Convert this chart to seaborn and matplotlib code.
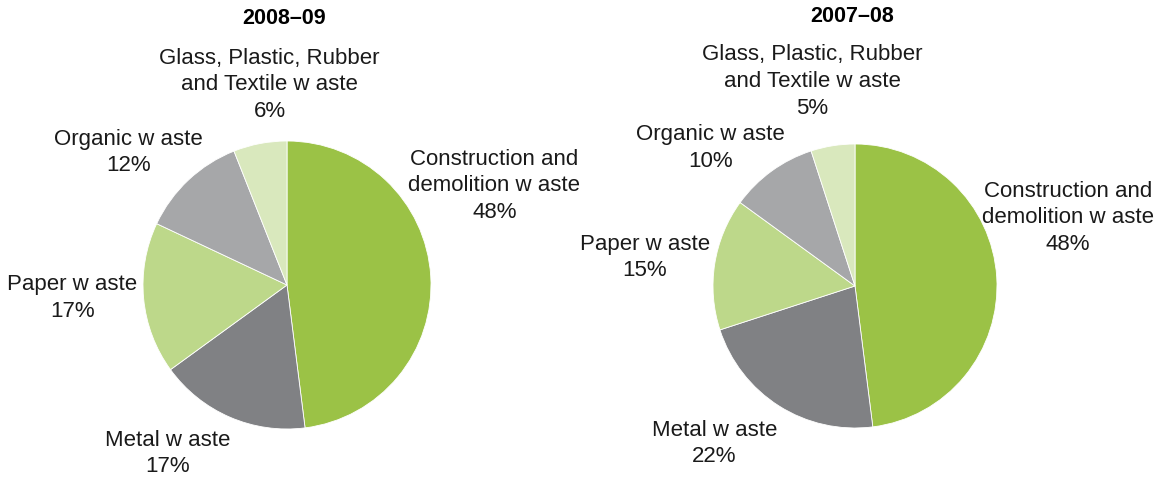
import matplotlib
matplotlib.use("Agg")
import matplotlib.pyplot as plt
import seaborn as sns

sns.set_theme(style="white")
plt.rcParams["font.family"] = ["Liberation Sans", "DejaVu Sans"]

# Waste stream categories, in drawing order (clockwise from 12 o'clock)
categories = [
    "Construction and\ndemolition w aste",
    "Metal w aste",
    "Paper w aste",
    "Organic w aste",
    "Glass, Plastic, Rubber\nand Textile w aste",
]
share_2008_09 = [48, 17, 17, 12, 6]
share_2007_08 = [48, 22, 15, 10, 5]
years = ["2008\u201309", "2007\u201308"]

colors = sns.color_palette(["#9BC246", "#808184", "#BDD88A", "#A6A7A9", "#D9E8BD"])

# Label anchor positions, in units of pie radius
label_pos_left = [(1.44, 0.69), (-0.83, -1.17), (-1.49, -0.09), (-1.10, 0.92), (-0.12, 1.39)]
label_pos_right = [(1.50, 0.48), (-0.99, -1.11), (-1.48, 0.20), (-1.02, 0.97), (-0.30, 1.44)]

W, H = 1158, 479
fig = plt.figure(figsize=(W / 100, H / 100), dpi=100)
fig.patch.set_facecolor("white")


def draw_pie(rect, values, title, label_pos, title_y):
    ax = fig.add_axes(rect)
    ax.pie(
        values,
        colors=colors,
        startangle=90,
        counterclock=False,
        wedgeprops=dict(edgecolor="white", linewidth=0.6),
    )
    ax.set_xlim(-1, 1)
    ax.set_ylim(-1, 1)
    ax.set_aspect("equal")
    ax.axis("off")
    for cat, val, (x, y) in zip(categories, values, label_pos):
        ax.text(x, y, f"{cat}\n{val}%", ha="center", va="center",
                fontsize=16, color="#1a1a1a", linespacing=1.35, clip_on=False)
    ax.text(-0.02, title_y, title, ha="center", va="center",
            fontsize=15.5, fontweight="bold", color="black", clip_on=False)


draw_pie([143 / W, 50 / H, 288 / W, 288 / H], share_2008_09, years[0], label_pos_left, 1.85)
draw_pie([713 / W, 51 / H, 284 / W, 284 / H], share_2007_08, years[1], label_pos_right, 1.90)

fig.savefig("out.png", dpi=100, facecolor="white")
